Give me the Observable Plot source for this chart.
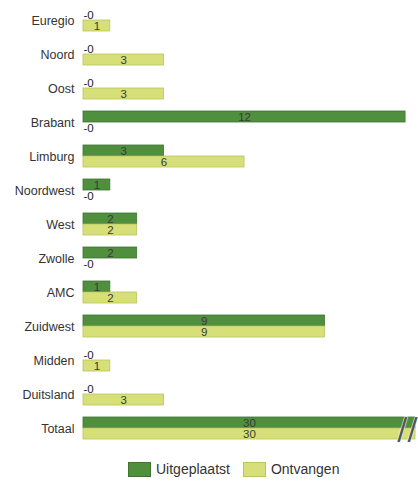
<!DOCTYPE html>
<html>
<head>
<meta charset="utf-8">
<script src="https://cdn.jsdelivr.net/npm/d3@7"></script>
<script src="https://cdn.jsdelivr.net/npm/@observablehq/plot@0.6"></script>
<style>
  body { margin: 0; background: #fff; font-family: "Liberation Sans", Arial, sans-serif; }
  #legend { display: flex; gap: 0; margin-left: 128px; margin-top: 9px; font-size: 14px; color: #333; align-items: center; }
  .sw { width: 23px; height: 15px; display: inline-block; margin-right: 5px; box-sizing: border-box; }
  .item { display: flex; align-items: center; }
</style>
</head>
<body>
<div id="chart"></div>
<script>
const regions = ["Euregio","Noord","Oost","Brabant","Limburg","Noordwest","West","Zwolle","AMC","Zuidwest","Midden","Duitsland","Totaal"];
const uitgeplaatst = [0,0,0,12,3,1,2,2,1,9,0,0,30];
const ontvangen    = [1,3,3,0,6,0,2,0,2,9,1,3,30];
const series = ["Uitgeplaatst","Ontvangen"];
const colors = ["#4f8f3d","#d6df78"];
const strokes = ["#3d7430","#bcc45e"];
const xMax = 12.37;

const data = [];
regions.forEach((r, i) => {
  data.push({region: r, series: series[0], value: uitgeplaatst[i]});
  data.push({region: r, series: series[1], value: ontvangen[i]});
});
const nonzero = data.filter(d => d.value > 0);
const zeros = data.filter(d => d.value === 0);
const broken = data.filter(d => d.value > xMax && d.series === series[0]);

const chart = Plot.plot({
  width: 418,
  height: 452,
  marginLeft: 83,
  marginRight: 3,
  marginTop: 2,
  marginBottom: 6,
  style: {fontFamily: "Liberation Sans, Arial, sans-serif", fontSize: "12.5px", color: "#333"},
  x: {domain: [0, xMax], clamp: true, axis: null},
  fy: {domain: regions, padding: 0, label: null, axis: null},
  y: {domain: series, paddingInner: 0, paddingOuter: 0.486, axis: null},
  color: {domain: series, range: colors},
  marks: [
    Plot.axisFy({anchor: "left", tickSize: 0, tickPadding: 9, label: null, fontSize: 12.5, fill: "#333"}),
    Plot.barX(nonzero, {fy: "region", y: "series", x: "value", fill: "series",
      stroke: d => strokes[series.indexOf(d.series)], strokeWidth: 0.8}),
    Plot.text(nonzero, {fy: "region", y: "series", x: d => Math.min(d.value, xMax) / 2,
      text: d => String(d.value), fill: "#3a3a3a", fontSize: 11.5, textAnchor: "middle", dy: 0.5}),
    Plot.text(zeros, {fy: "region", y: "series", x: 0, text: () => "-0",
      fill: "#222", fontSize: 11.5, textAnchor: "start", dx: 0}),
    Plot.text(broken, {fy: "region", x: xMax, text: () => "//", frameAnchor: "middle",
      fill: "#555", stroke: "white", strokeWidth: 1, fontSize: 30, textAnchor: "end", dx: 2, fontFamily: "DejaVu Sans", dy: 1})
  ]
});
document.getElementById("chart").appendChild(chart);

const legend = document.createElement("div");
legend.id = "legend";
series.forEach((s, i) => {
  const item = document.createElement("div");
  item.className = "item";
  item.style.marginRight = i === 0 ? "13px" : "0";
  const sw = document.createElement("span");
  sw.className = "sw";
  sw.style.background = colors[i];
  sw.style.border = "1px solid " + strokes[i];
  const lab = document.createElement("span");
  lab.textContent = s;
  item.appendChild(sw);
  item.appendChild(lab);
  legend.appendChild(item);
});
document.body.appendChild(legend);
</script>
</body>
</html>
